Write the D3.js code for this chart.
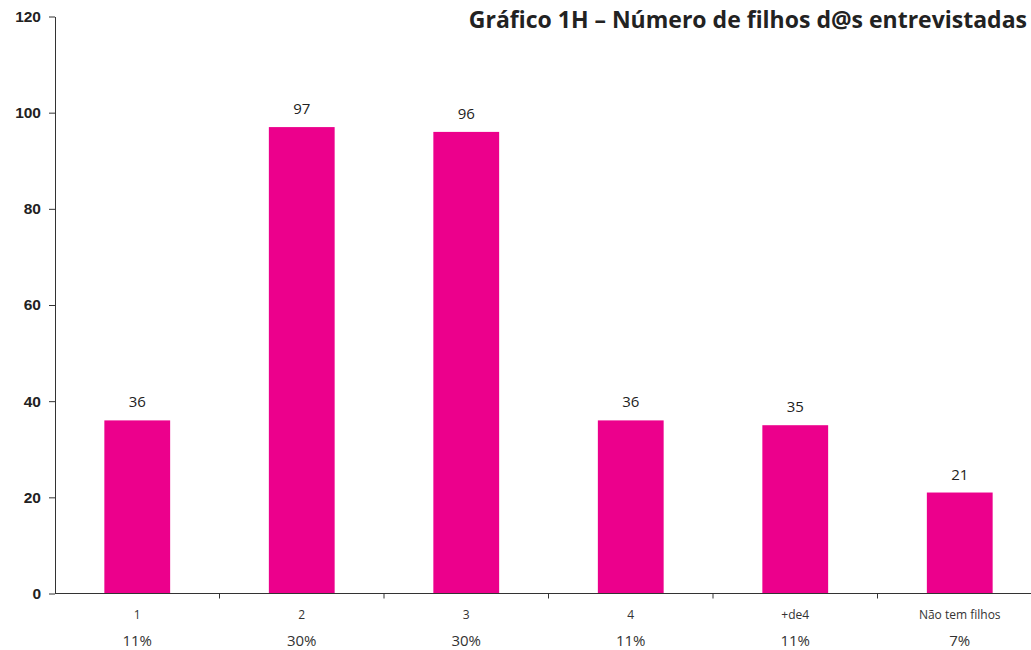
<!DOCTYPE html>
<html>
<head>
<meta charset="utf-8">
<script src="https://cdn.jsdelivr.net/npm/d3@7"></script>
<style>
  body { margin: 0; background: #fff; }
  svg { display: block; font-family: "Open Sans", "Noto Sans", sans-serif; }
  .domain, .tick line { stroke: #333; }
</style>
</head>
<body>
<div id="chart"></div>
<script>
const categories = ["1", "2", "3", "4", "+de4", "Não tem filhos"];
const counts = [36, 97, 96, 36, 35, 21];
const percents = ["11%", "30%", "30%", "11%", "11%", "7%"];
const yTicks = [0, 20, 40, 60, 80, 100, 120];
const title = "Gráfico 1H – Número de filhos d@s entrevistadas";

const W = 1031, H = 650;
const margin = { top: 16.5, left: 55, bottom: 56.5 };
const plotH = H - margin.top - margin.bottom;

const svg = d3.select("#chart").append("svg")
    .attr("width", W)
    .attr("height", H);

const x = d3.scaleBand()
    .domain(categories)
    .range([margin.left, margin.left + 6 * 164.5])
    .paddingInner(0.6)
    .paddingOuter(0.3);

const y = d3.scaleLinear()
    .domain([0, 120])
    .range([margin.top + plotH, margin.top]);

// bars
svg.selectAll(".bar")
    .data(categories)
    .enter().append("rect")
    .attr("class", "bar")
    .attr("x", d => x(d))
    .attr("width", x.bandwidth())
    .attr("y", (d, i) => y(counts[i]))
    .attr("height", (d, i) => y(0) - y(counts[i]))
    .attr("fill", "#ec008c");

// value labels
svg.selectAll(".val")
    .data(categories)
    .enter().append("text")
    .attr("class", "val")
    .attr("x", d => x(d) + x.bandwidth() / 2)
    .attr("y", (d, i) => y(counts[i]) - 13)
    .attr("text-anchor", "middle")
    .style("font-size", "15px")
    .attr("fill", "#222")
    .text((d, i) => counts[i]);

// y axis
svg.append("g")
    .attr("transform", `translate(${margin.left},0)`)
    .call(d3.axisLeft(y).tickValues(yTicks).tickSize(6).tickSizeOuter(0).tickPadding(8))
    .call(g => g.selectAll("text")
        .style("font-size", "15.5px")
        .style("font-weight", "bold")
        .attr("fill", "#222"));

// x axis with boundary ticks between categories
const xAxisG = svg.append("g")
    .attr("transform", `translate(0,${y(0)})`);
xAxisG.append("line")
    .attr("x1", margin.left).attr("x2", W)
    .attr("stroke", "#333");
const step = x.step();
xAxisG.selectAll(".xt")
    .data(categories.slice(1))
    .enter().append("line")
    .attr("x1", d => x(d) - step * 0.3)
    .attr("x2", d => x(d) - step * 0.3)
    .attr("y1", 0).attr("y2", 5)
    .attr("stroke", "#333");

// category labels
svg.selectAll(".cat")
    .data(categories)
    .enter().append("text")
    .attr("x", d => x(d) + x.bandwidth() / 2)
    .attr("y", y(0) + 25)
    .attr("text-anchor", "middle")
    .style("font-size", "12px")
    .attr("fill", "#333")
    .text(d => d);

// percentages
svg.selectAll(".pct")
    .data(categories)
    .enter().append("text")
    .attr("x", d => x(d) + x.bandwidth() / 2)
    .attr("y", y(0) + 52)
    .attr("text-anchor", "middle")
    .style("font-size", "15px")
    .attr("fill", "#333")
    .text((d, i) => percents[i]);

// title, right-aligned so it stays inside the page
svg.append("text")
    .attr("x", W - 4)
    .attr("y", 28)
    .attr("text-anchor", "end")
    .style("font-size", "23px")
    .style("font-weight", "bold")
    .attr("fill", "#222")
    .text(title);
</script>
</body>
</html>
